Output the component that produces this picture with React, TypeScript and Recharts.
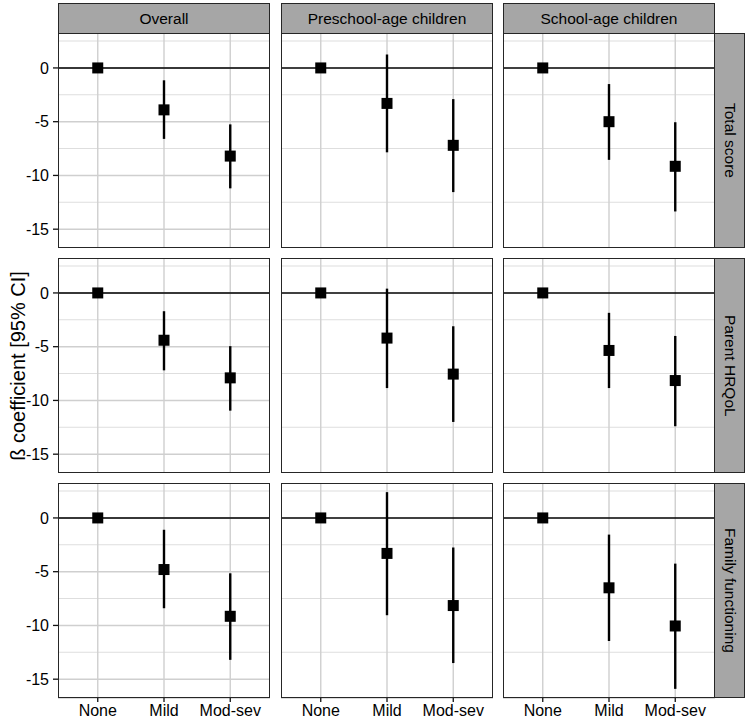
import React from "react";
import {
  ComposedChart,
  Scatter,
  ErrorBar,
  XAxis,
  YAxis,
  CartesianGrid,
  ReferenceLine,
} from "recharts";

const categories = ["None", "Mild", "Mod-sev"];
const colFacets = ["Overall", "Preschool-age children", "School-age children"];
const rowFacets = ["Total score", "Parent HRQoL", "Family functioning"];

// estimates / CI bounds, one inner array per column facet
const totalEst = [[0, -3.9, -8.2], [0, -3.3, -7.2], [0, -5.0, -9.15]];
const totalLow = [[0, -6.6, -11.2], [0, -7.85, -11.55], [0, -8.55, -13.35]];
const totalHigh = [[0, -1.15, -5.25], [0, 1.25, -2.9], [0, -1.5, -5.05]];

const parentEst = [[0, -4.4, -7.9], [0, -4.2, -7.55], [0, -5.35, -8.15]];
const parentLow = [[0, -7.2, -10.95], [0, -8.85, -12.0], [0, -8.85, -12.4]];
const parentHigh = [[0, -1.7, -4.95], [0, 0.4, -3.1], [0, -1.85, -4.0]];

const familyEst = [[0, -4.8, -9.15], [0, -3.3, -8.15], [0, -6.5, -10.05]];
const familyLow = [[0, -8.4, -13.2], [0, -9.05, -13.5], [0, -11.45, -15.9]];
const familyHigh = [[0, -1.1, -5.15], [0, 2.4, -2.75], [0, -1.55, -4.25]];

const yTicks = [-15, -10, -5, 0];
const yMinor = [-12.5, -7.5, -2.5, 2.5];

const EST = [totalEst, parentEst, familyEst];
const LOW = [totalLow, parentLow, familyLow];
const HIGH = [totalHigh, parentHigh, familyHigh];

const FONT = '"Liberation Sans", Arial, sans-serif';
const PANEL_LEFT = [58, 281, 503];
const PANEL_TOP = [33, 258, 483];
const PANEL_W = 212;
const PANEL_H = 215;
const Y_AXIS_W = 58;
const X_AXIS_H = 34;
const STRIP_FILL = "#a6a6a6";
const BORDER = "#262626";
const GRID = "#cfcfcf";

const squareShape = (p: any) => (
  <rect x={p.cx - 5.5} y={p.cy - 5.5} width={11} height={11} fill="#000" />
);

function Panel({ row, col }: { row: number; col: number }) {
  const data = categories.map((c, i) => {
    const est = EST[row][col][i];
    return {
      x: i + 1,
      label: c,
      y: est,
      err: [est - LOW[row][col][i], HIGH[row][col][i] - est],
    };
  });
  const showY = col === 0;
  const showX = row === 2;

  return (
    <div
      style={{
        position: "absolute",
        left: PANEL_LEFT[col] - (showY ? Y_AXIS_W : 0),
        top: PANEL_TOP[row],
        fontSize: 16,
      }}
    >
      <ComposedChart
        width={PANEL_W + (showY ? Y_AXIS_W : 0)}
        height={PANEL_H + (showX ? X_AXIS_H : 0)}
        margin={{ top: 0, right: 0, bottom: 0, left: 0 }}
      >
        <CartesianGrid stroke={GRID} strokeWidth={1.4} vertical={false} />
        {yMinor.map((v) => (
          <ReferenceLine key={v} y={v} stroke="#dedede" strokeWidth={1.1} />
        ))}
        {data.map((d) => (
          <ReferenceLine key={d.label} x={d.x} stroke={GRID} strokeWidth={1.4} />
        ))}
        <XAxis
          type="number"
          dataKey="x"
          domain={[0.4, 3.6]}
          ticks={[1, 2, 3]}
          tickFormatter={(v: number) => categories[v - 1] ?? ""}
          height={showX ? X_AXIS_H : 0}
          tick={showX ? { fontSize: 16, fill: "#000", fontFamily: FONT } : false}
          tickLine={showX ? { stroke: "#111", strokeWidth: 1.3 } : false}
          tickSize={4}
          tickMargin={3}
          axisLine={false}
          interval={0}
        />
        <YAxis
          type="number"
          dataKey="y"
          domain={[-16.75, 3.25]}
          ticks={yTicks}
          width={showY ? Y_AXIS_W : 0}
          tick={showY ? { fontSize: 16, fill: "#000", fontFamily: FONT } : false}
          tickLine={showY ? { stroke: "#111", strokeWidth: 1.3 } : false}
          tickSize={5}
          tickMargin={4}
          axisLine={false}
          allowDataOverflow
        />
        <ReferenceLine y={0} stroke="#000" strokeWidth={1.6} />
        <Scatter data={data} shape={squareShape} isAnimationActive={false}>
          <ErrorBar
            dataKey="err"
            direction="y"
            width={0}
            stroke="#000"
            strokeWidth={2.4}
            isAnimationActive={false}
          />
        </Scatter>
      </ComposedChart>
      <div
        style={{
          position: "absolute",
          left: showY ? Y_AXIS_W : 0,
          top: 0,
          width: PANEL_W,
          height: PANEL_H,
          border: `1.3px solid ${BORDER}`,
          boxSizing: "border-box",
          pointerEvents: "none",
        }}
      />
    </div>
  );
}

export default function App() {
  return (
    <div
      style={{
        position: "absolute",
        left: 0,
        top: 0,
        width: 749,
        height: 723,
        background: "#fff",
        fontFamily: FONT,
        overflow: "hidden",
      }}
    >
      {colFacets.map((name, c) => (
        <div
          key={name}
          style={{
            position: "absolute",
            left: PANEL_LEFT[c],
            top: 3,
            width: PANEL_W,
            height: 31,
            background: STRIP_FILL,
            border: `1.3px solid ${BORDER}`,
            boxSizing: "border-box",
            display: "flex",
            alignItems: "center",
            justifyContent: "center",
            fontSize: 15.5,
            color: "#000",
          }}
        >
          {name}
        </div>
      ))}
      {rowFacets.map((name, r) => (
        <div
          key={name}
          style={{
            position: "absolute",
            left: 714,
            top: PANEL_TOP[r],
            width: 31,
            height: PANEL_H,
            background: STRIP_FILL,
            border: `1.3px solid ${BORDER}`,
            boxSizing: "border-box",
            display: "flex",
            alignItems: "center",
            justifyContent: "center",
            fontSize: 15.5,
            color: "#000",
          }}
        >
          <span style={{ writingMode: "vertical-rl", whiteSpace: "nowrap" }}>{name}</span>
        </div>
      ))}
      {rowFacets.map((_, r) =>
        colFacets.map((__, c) => <Panel key={`${r}-${c}`} row={r} col={c} />)
      )}
      <div
        style={{
          position: "absolute",
          left: 18,
          top: 366,
          transform: "translate(-50%, -50%) rotate(-90deg)",
          whiteSpace: "nowrap",
          fontSize: 20,
          color: "#000",
        }}
      >
        ß coefficient [95% CI]
      </div>
    </div>
  );
}
